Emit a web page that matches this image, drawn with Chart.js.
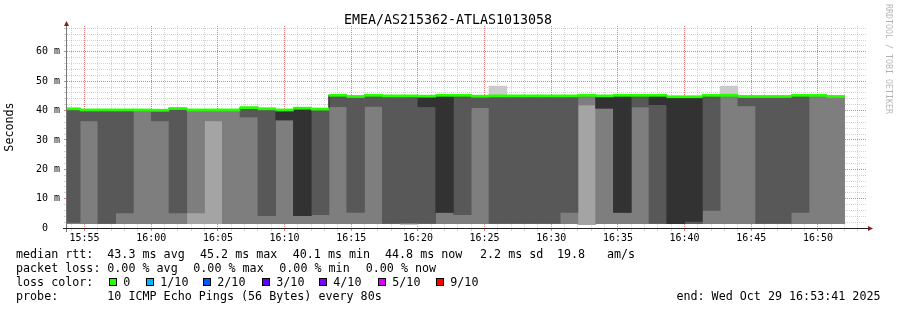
<!DOCTYPE html>
<html>
<head>
<meta charset="utf-8">
<script src="https://cdn.jsdelivr.net/npm/chart.js@4.4.0/dist/chart.umd.min.js"></script>
<style>
html, body { margin: 0; padding: 0; background: #fff; }
canvas { display: block; }
</style>
</head>
<body>
<canvas id="smoke" width="897" height="310"></canvas>
<script>
// end time of every 80 s step
var stepEnds = [
    '15:54:40', '15:56:00', '15:57:20', '15:58:40', '16:00:00', '16:01:20', '16:02:40', '16:04:00',
    '16:05:20', '16:06:40', '16:08:00', '16:09:20', '16:10:40', '16:12:00', '16:13:20', '16:14:40',
    '16:16:00', '16:17:20', '16:18:40', '16:20:00', '16:21:20', '16:22:40', '16:24:00', '16:25:20',
    '16:26:40', '16:28:00', '16:29:20', '16:30:40', '16:32:00', '16:33:20', '16:34:40', '16:36:00',
    '16:37:20', '16:38:40', '16:40:00', '16:41:20', '16:42:40', '16:44:00', '16:45:20', '16:46:40',
    '16:48:00', '16:49:20', '16:50:40', '16:52:00'
];
// rtt of the 10 pings of each step, sorted (ms)
var pings = [
    [1.5, 1.5, 1.5, 1.9, 40.6, 40.6, 40.6, 40.6, 40.6, 40.6],
    [1.5, 1.5, 1.5, 36.5, 40.2, 40.2, 40.2, 40.2, 40.2, 40.2],
    [1.5, 1.5, 1.5, 1.6, 40.2, 40.2, 40.2, 40.2, 40.2, 40.2],
    [1.5, 1.5, 1.5, 5.1, 40.2, 40.2, 40.2, 40.2, 40.2, 40.2],
    [1.5, 1.5, 1.5, 40.2, 40.2, 40.2, 40.2, 40.2, 40.2, 40.2],
    [1.5, 1.5, 1.5, 36.5, 40.1, 40.1, 40.1, 40.1, 40.1, 40.1],
    [1.5, 1.5, 1.5, 5.1, 40.7, 40.7, 40.7, 40.7, 40.7, 40.7],
    [1.5, 1.5, 5.1, 40.2, 40.2, 40.2, 40.2, 40.2, 40.2, 40.2],
    [1.5, 1.5, 36.5, 40.2, 40.2, 40.2, 40.2, 40.2, 40.2, 40.2],
    [1.5, 1.5, 1.5, 40.2, 40.2, 40.2, 40.2, 40.2, 40.2, 40.2],
    [1.5, 1.5, 1.5, 37.8, 41.0, 41.0, 41.0, 41.0, 41.0, 41.0],
    [1.5, 1.5, 1.5, 4.2, 40.6, 40.6, 40.6, 40.6, 40.6, 40.6],
    [1.5, 1.5, 1.5, 36.8, 36.8, 40.2, 40.2, 40.2, 40.2, 40.2],
    [1.5, 1.5, 1.5, 4.2, 4.2, 40.8, 40.8, 40.8, 40.8, 40.8],
    [1.5, 1.5, 1.5, 4.5, 40.5, 40.5, 40.5, 40.5, 40.5, 40.5],
    [1.5, 1.5, 1.5, 41.3, 45.2, 45.2, 45.2, 45.2, 45.2, 45.2],
    [1.5, 1.5, 1.5, 5.3, 44.8, 44.8, 44.8, 44.8, 44.8, 44.8],
    [1.5, 1.5, 1.5, 41.4, 45.2, 45.2, 45.2, 45.2, 45.2, 45.2],
    [1.5, 1.5, 1.5, 1.6, 45.0, 45.0, 45.0, 45.0, 45.0, 45.0],
    [1.1, 1.5, 1.5, 1.7, 45.0, 45.0, 45.0, 45.0, 45.0, 45.0],
    [1.5, 1.5, 1.5, 1.6, 41.3, 44.9, 44.9, 44.9, 44.9, 44.9],
    [1.5, 1.5, 1.5, 5.3, 5.3, 45.2, 45.2, 45.2, 45.2, 45.2],
    [1.5, 1.5, 1.5, 4.5, 45.2, 45.2, 45.2, 45.2, 45.2, 45.2],
    [1.5, 1.5, 1.5, 41.0, 44.9, 44.9, 44.9, 44.9, 44.9, 44.9],
    [1.5, 1.5, 1.5, 1.6, 45.0, 45.0, 45.0, 45.0, 45.0, 48.3],
    [1.5, 1.5, 1.5, 1.6, 45.0, 45.0, 45.0, 45.0, 45.0, 45.0],
    [1.5, 1.5, 1.5, 1.6, 45.0, 45.0, 45.0, 45.0, 45.0, 45.0],
    [1.5, 1.5, 1.5, 1.6, 45.0, 45.0, 45.0, 45.0, 45.0, 45.0],
    [1.5, 1.5, 1.5, 5.3, 45.0, 45.0, 45.0, 45.0, 45.0, 45.0],
    [1.1, 1.1, 41.9, 45.2, 45.2, 45.2, 45.2, 45.2, 45.2, 45.2],
    [1.5, 1.5, 1.5, 40.8, 40.8, 45.0, 45.0, 45.0, 45.0, 45.0],
    [1.5, 1.5, 1.5, 5.3, 5.3, 45.2, 45.2, 45.2, 45.2, 45.2],
    [1.5, 1.5, 1.5, 41.2, 45.2, 45.2, 45.2, 45.2, 45.2, 45.2],
    [1.5, 1.5, 1.5, 1.6, 42.0, 45.2, 45.2, 45.2, 45.2, 45.2],
    [1.5, 1.5, 1.5, 1.5, 1.5, 44.7, 44.7, 44.7, 44.7, 44.7],
    [1.5, 1.5, 1.5, 1.5, 2.2, 44.7, 44.7, 44.7, 44.7, 44.7],
    [1.5, 1.5, 1.5, 6.0, 45.2, 45.2, 45.2, 45.2, 45.2, 45.2],
    [1.5, 1.5, 1.5, 45.2, 45.2, 45.2, 45.2, 45.2, 45.2, 48.3],
    [1.5, 1.5, 1.5, 41.6, 44.8, 44.8, 44.8, 44.8, 44.8, 44.8],
    [1.5, 1.5, 1.5, 1.6, 44.8, 44.8, 44.8, 44.8, 44.8, 44.8],
    [1.5, 1.5, 1.5, 1.6, 44.8, 44.8, 44.8, 44.8, 44.8, 44.8],
    [1.5, 1.5, 1.5, 5.3, 45.2, 45.2, 45.2, 45.2, 45.2, 45.2],
    [1.5, 1.5, 1.5, 45.2, 45.2, 45.2, 45.2, 45.2, 45.2, 45.2],
    [1.5, 1.5, 1.5, 44.8, 44.8, 44.8, 44.8, 44.8, 44.8, 44.8]
];
var median = [
    40.6, 40.2, 40.2, 40.2, 40.2, 40.1, 40.7, 40.2, 40.2, 40.2, 41.0, 40.6, 40.2, 40.8, 40.5,
    45.2, 44.8, 45.2, 45.0, 45.0, 44.9, 45.2, 45.2, 44.9, 45.0, 45.0, 45.0, 45.0, 45.0, 45.2,
    45.0, 45.2, 45.2, 45.2, 44.7, 44.7, 45.2, 45.2, 44.8, 44.8, 44.8, 45.2, 45.2, 44.8
];
var smokeShades = ['#cacaca', '#a4a4a4', '#7e7e7e', '#585858', '#323232'];
var lossLabels = ['0', '1/10', '2/10', '3/10', '4/10', '5/10', '9/10'];
var lossColors = ['#26ff00', '#00b8ff', '#0059ff', '#5e00ff', '#7e00ff', '#dd00ff', '#ff0000'];
var rttStats = ['43.3 ms avg', '45.2 ms max', '40.1 ms min', '44.8 ms now', '2.2 ms sd', '19.8', 'am/s'];
var lossStats = ['0.00 % avg', '0.00 % max', '0.00 % min', '0.00 % now'];

var T0 = toSec('15:53:41');
var SPAN = 3600;
var STEP = 80;
var MONO = "'DejaVu Sans Mono', monospace";

function toSec(s) {
    var p = s.split(':').map(Number);
    return p[0] * 3600 + p[1] * 60 + (p[2] || 0);
}
function hhmm(v) {
    var h = Math.floor(v / 3600), m = Math.floor(v % 3600 / 60);
    return h + ':' + (m < 10 ? '0' : '') + m;
}

var centre = stepEnds.map(function (s) { return toSec(s) - STEP / 2; });
var barW = 800 * STEP / SPAN;

// smoke: band k goes from the k-th fastest to the k-th slowest ping
var datasets = smokeShades.map(function (shade, k) {
    var pts = [];
    pings.forEach(function (row, i) {
        if (row[9 - k] - row[k] > 0.001) pts.push({ x: centre[i], y: [row[k], row[9 - k]] });
    });
    return {
        type: 'bar', data: pts, backgroundColor: shade, borderWidth: 0,
        barThickness: barW, grouped: false, inflateAmount: 0.33, order: 10 - k
    };
});
datasets.push({
    type: 'line',
    data: median.map(function (m, i) { return { x: centre[i], y: m }; }),
    stepped: 'middle', borderColor: '#202020', borderWidth: 1, pointRadius: 0, fill: false, order: 2
});
datasets.push({
    type: 'bar',
    data: median.map(function (m, i) { return { x: centre[i], y: [m - 0.36, m + 0.36] }; }),
    backgroundColor: lossColors[0], borderWidth: 0,
    barThickness: barW, grouped: false, inflateAmount: 0.33, order: 1
});

var GRID = 'rgba(143,143,143,0.4)';
var MGRID = 'rgba(222,79,79,0.75)';

var rrdDecor = {
    id: 'rrdDecor',
    beforeDraw: function (chart) {
        var c = chart.ctx;
        c.save();
        c.fillStyle = '#fff';
        c.fillRect(0, 0, chart.width, chart.height);
        c.restore();
    },
    afterDraw: function (chart) {
        var c = chart.ctx, a = chart.chartArea;
        c.save();
        // axes + arrows
        c.lineWidth = 1;
        c.strokeStyle = '#777';
        c.beginPath(); c.moveTo(a.left - 0.5, a.bottom + 4); c.lineTo(a.left - 0.5, a.top - 2); c.stroke();
        c.strokeStyle = '#1f1f1f';
        c.beginPath(); c.moveTo(a.left - 4, a.bottom + 0.5); c.lineTo(a.right + 1, a.bottom + 0.5); c.stroke();
        c.fillStyle = '#801f1f';
        c.beginPath(); c.moveTo(a.left - 3, a.top); c.lineTo(a.left + 2, a.top); c.lineTo(a.left - 0.5, a.top - 5); c.fill();
        c.beginPath(); c.moveTo(a.right + 1, a.bottom - 2); c.lineTo(a.right + 1, a.bottom + 3); c.lineTo(a.right + 6, a.bottom + 0.5); c.fill();

        c.fillStyle = '#000';
        c.textBaseline = 'alphabetic';
        // title
        c.font = '13.3px ' + MONO;
        c.textAlign = 'center';
        c.fillText('EMEA/AS215362-ATLAS1013058', 448, 24);
        // unit
        c.font = '11.7px ' + MONO;
        c.save();
        c.translate(10, 127);
        c.rotate(-Math.PI / 2);
        c.textBaseline = 'middle';
        c.fillText('Seconds', 0, 0);
        c.restore();
        // watermark
        c.save();
        c.font = '8.3px ' + MONO;
        c.fillStyle = 'rgba(0,0,0,0.3)';
        c.translate(888.5, 4);
        c.rotate(Math.PI / 2);
        c.textAlign = 'left';
        c.textBaseline = 'middle';
        c.fillText('RRDTOOL / TOBI OETIKER', 0, 0);
        c.restore();

        // legend
        c.textAlign = 'left';
        c.font = '11.7px ' + MONO;
        c.fillText('median rtt:', 16, 258);
        [107.3, 200, 292.7, 385, 480, 557, 607].forEach(function (x, i) { c.fillText(rttStats[i], x, 258); });

        c.fillText('packet loss:', 16, 272);
        [107.3, 193.3, 279.3, 365.7].forEach(function (x, i) { c.fillText(lossStats[i], x, 272); });

        c.fillText('loss color:', 16, 286);
        [109, 145.7, 203.3, 261.7, 319.3, 377.7, 435.7].forEach(function (x, i) {
            var bx = Math.round(x);
            c.fillStyle = lossColors[i];
            c.fillRect(bx, 278, 8, 8);
            c.strokeStyle = '#000';
            c.strokeRect(bx + 0.5, 278.5, 7, 7);
            c.fillStyle = '#000';
            c.fillText(lossLabels[i], bx + 14.3, 286);
        });

        c.fillText('probe:', 16, 300);
        c.fillText('10 ICMP Echo Pings (56 Bytes) every 80s', 107.3, 300);
        c.textAlign = 'right';
        c.fillText('end: Wed Oct 29 16:53:41 2025', 880.5, 300);
        c.restore();
    }
};

var smokeChart = new Chart(document.getElementById('smoke').getContext('2d'), {
    type: 'bar',
    data: { datasets: datasets },
    options: {
        responsive: false,
        animation: false,
        devicePixelRatio: 1,
        layout: { padding: { left: 0, top: 26, right: 30, bottom: 0 } },
        plugins: { legend: { display: false }, tooltip: { enabled: false }, title: { display: false } },
        scales: {
            x: {
                type: 'linear', min: T0, max: T0 + SPAN, offset: false, z: 1,
                afterBuildTicks: function (axis) {
                    var t = [];
                    for (var v = Math.ceil(T0 / 60) * 60; v <= T0 + SPAN; v += 60) t.push({ value: v });
                    axis.ticks = t;
                },
                afterFit: function (axis) { axis.height = 82; },
                grid: {
                    offset: false, lineWidth: 1, tickLength: 3,
                    color: function (ctx) { return ctx.tick && ctx.tick.value % 300 === 0 ? MGRID : GRID; },
                    tickColor: function (ctx) { return ctx.tick && ctx.tick.value % 300 === 0 ? MGRID : GRID; }
                },
                border: { display: false, dash: [1, 1] },
                ticks: {
                    autoSkip: false, maxRotation: 0, padding: 1, color: '#000',
                    font: { family: MONO, size: 9.97 },
                    callback: function (v) { return v % 300 === 0 ? hhmm(v) : ''; }
                }
            },
            y: {
                type: 'linear', min: 0, max: 68.8, z: 1,
                afterBuildTicks: function (axis) {
                    var t = [];
                    for (var v = 0; v <= 68; v += 2) t.push({ value: v });
                    axis.ticks = t;
                },
                afterFit: function (axis) { axis.width = 67; },
                grid: {
                    lineWidth: 1, tickLength: 3,
                    color: function (ctx) { return ctx.tick && ctx.tick.value % 10 === 0 ? MGRID : GRID; },
                    tickColor: function (ctx) { return ctx.tick && ctx.tick.value % 10 === 0 ? MGRID : GRID; }
                },
                border: { display: false, dash: [1, 1] },
                ticks: {
                    autoSkip: false, padding: 4, color: '#000',
                    font: { family: MONO, size: 9.97 },
                    callback: function (v) {
                        if (v % 10 !== 0) return '';
                        return v === 0 ? '0  ' : v + ' m';
                    }
                }
            }
        }
    },
    plugins: [rrdDecor]
});
</script>
</body>
</html>
